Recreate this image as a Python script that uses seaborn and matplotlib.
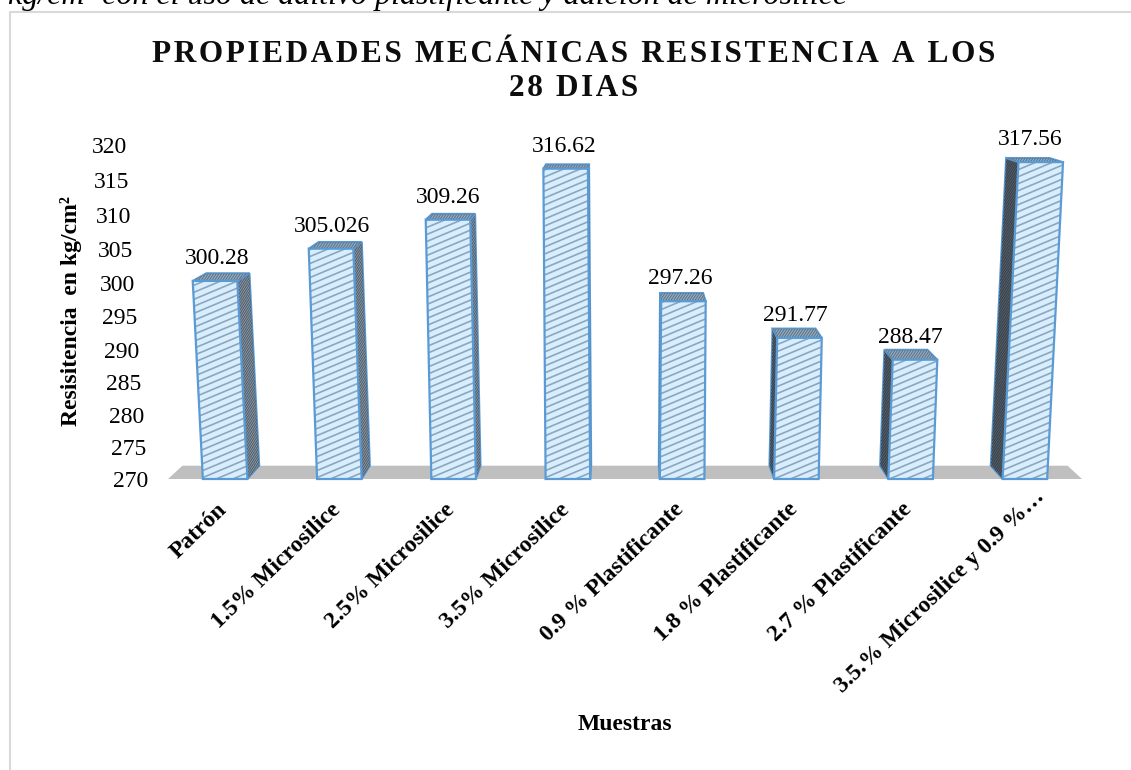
import matplotlib
matplotlib.use('Agg')
import matplotlib.pyplot as plt
import seaborn as sns
import numpy as np
from matplotlib.collections import LineCollection
from matplotlib.lines import Line2D
from matplotlib.patches import Polygon
from matplotlib.transforms import Affine2D, IdentityTransform, ScaledTranslation

muestras = ['Patrón', '1.5% Microsilice', '2.5% Microsilice', '3.5% Microsilice',
            '0.9 % Plastificante', '1.8 % Plastificante', '2.7 % Plastificante',
            '3.5.% Microsilice y 0.9 %…']
resistencia = [300.28, 305.026, 309.26, 316.62, 297.26, 291.77, 288.47, 317.56]
etiquetas = ['300.28', '305.026', '309.26', '316.62', '297.26', '291.77', '288.47', '317.56']
yticks = list(range(270, 325, 5))

titulo = ['PROPIEDADES MECÁNICAS RESISTENCIA A LOS', '28 DIAS']
encabezado = 'kg/cm² con el uso de aditivo plastificante y adición de microsilice'

sns.set_theme(style='white')
plt.rcParams['font.family'] = ['Liberation Serif', 'DejaVu Serif']

W, H = 1131, 770
EDGE = '#5b9bd5'
base = 270
vanish = (3.5, 336.5)   # punto de fuga de la perspectiva
depth = 0.0315


def back(p):
    return (p[0] + (vanish[0] - p[0]) * depth, p[1] + (vanish[1] - p[1]) * depth)


# el eje 3D no es lineal: las marcas se separan un poco hacia arriba
def forward(v):
    u = np.asarray(v, dtype=float) - base
    return 6.33 * u + 0.007 * u ** 2


def inverse(g):
    g = np.asarray(g, dtype=float)
    return base + (-6.33 + np.sqrt(np.maximum(6.33 ** 2 + 4 * 0.007 * g, 0))) / (2 * 0.007)


def hatch(ax, pts, color, spacing, slope, lw, z):
    # rayado inclinado, recortado a la cara
    poly = Polygon(pts, closed=True, transform=ax.transData, fill=False, lw=0)
    ax.add_patch(poly)
    disp = ax.transData.transform(pts)
    x0, x1 = disp[:, 0].min() - 2, disp[:, 0].max() + 2
    y0, y1 = disp[:, 1].min(), disp[:, 1].max()
    segs = []
    for c in np.arange(y0 - slope * (x1 - x0) - spacing, y1 + spacing, spacing):
        segs.append([(x0, c), (x1, c + slope * (x1 - x0))])
    lc = LineCollection(segs, colors=color, linewidths=lw, transform=IdentityTransform(), zorder=z)
    ax.add_collection(lc, autolim=False)
    lc.set_clip_path(poly.get_path(), poly.get_transform())


def face(ax, pts, fill, line, spacing, slope, z):
    ax.add_patch(Polygon(pts, closed=True, facecolor=fill, edgecolor=EDGE, lw=1.4, zorder=z, clip_on=False))
    hatch(ax, pts, line, spacing, slope, 0.9, z + 0.1)


fig = plt.figure(figsize=(W / 100, H / 100), dpi=100)
ax = fig.add_axes([168 / W, 1 - 479 / H, 914 / W, 334 / H])

sns.barplot(x=muestras, y=resistencia, width=0.39, color='#d9eefc', saturation=1,
            edgecolor=EDGE, linewidth=1.6, ax=ax)
ax.set_yscale('function', functions=(forward, inverse))
ax.set_xlim(-0.5, 7.5)
ax.set_ylim(base, 320)
sns.despine(ax=ax, left=True, bottom=True)

# piso gris
p0, p1 = (-0.5, base), (7.5, base)
ax.add_patch(Polygon([p0, p1, back(p1), back(p0)], closed=True, facecolor='#bfbfbf',
                     edgecolor='none', zorder=1, clip_on=False))

for bar, v, etq in zip(ax.patches[:len(resistencia)], resistencia, etiquetas):
    c = bar.get_x() + bar.get_width() / 2
    s = (c - 3.5) * 8.35e-4
    bar.set_y(base)
    bar.set_height(v - base)
    bar.set_transform(Affine2D.from_values(1, 0, s, 1, -s * base, 0) + ax.transData)
    bar.set_clip_on(False)
    l, r = bar.get_x(), bar.get_x() + bar.get_width()
    bl, br = (l, base), (r, base)
    tl, tr = (l + s * (v - base), v), (r + s * (v - base), v)

    # caras laterales y superior
    if back(br)[0] > br[0]:
        face(ax, [br, tr, back(tr), back(br)], '#9aa9b8', '#56626e', 3.5, 1.6, 2)
    if back(bl)[0] < bl[0]:
        face(ax, [bl, tl, back(tl), back(bl)], '#5d6873', '#3b444d', 3.5, 1.6, 2)
    face(ax, [tl, tr, back(tr), back(tl)], '#9db3c6', '#62788c', 4, 1.5, 2.2)

    # cara frontal
    front = [bl, br, tr, tl]
    ax.add_patch(Polygon(front, closed=True, facecolor='#d9eefc', edgecolor='none', zorder=3, clip_on=False))
    hatch(ax, front, '#8aa6c0', 7, 0.42, 1.2, 3.5)
    bar.set_facecolor('none')
    bar.set_zorder(4)

    # valor sobre la barra
    dx = 0.5 * s * (v - base) * 114.25 - 3
    ax.annotate(etq, (c, v), xytext=(dx * 0.72, 17 * 0.72),
                textcoords='offset points', ha='center', va='baseline',
                fontsize=17, color='black', zorder=6, annotation_clip=False)

# ejes
ax.set_yticks(yticks)
ax.minorticks_off()
ax.tick_params(axis='both', length=0, pad=0)
ax.set_yticklabels([str(t) for t in yticks], fontsize=17, color='black')
for lab, t in zip(ax.get_yticklabels(), yticks):
    px = -(20 + (t - base) * 21 / 50)
    lab.set_transform(lab.get_transform() + ScaledTranslation(px / 100, 0, fig.dpi_scale_trans))

ax.set_xticks(range(len(muestras)))
ax.set_xticklabels(muestras, fontsize=17, fontweight='bold', color='black',
                   rotation=44, ha='right', va='top', rotation_mode='anchor')
for i, lab in enumerate(ax.get_xticklabels()):
    # la ultima etiqueta va mas alta y a la derecha por el largo del texto
    ox, oy = (9, -7) if i == len(muestras) - 1 else (-9, -20)
    lab.set_transform(lab.get_transform() + ScaledTranslation(ox / 100, oy / 100, fig.dpi_scale_trans))

ax.set_ylabel('Resisitencia  en kg/cm²', fontsize=17, fontweight='bold', color='black')
ax.yaxis.set_label_coords((82 - 168) / 914, 0.503)
ax.set_xlabel('Muestras', fontsize=17, fontweight='bold', color='black')
ax.xaxis.set_label_coords(0.5, -(724 - 479) / 334)
ax.xaxis.label.set_va('center')

# titulo con espaciado entre letras
for txt, y in zip(titulo, [55, 88]):
    fig.text(574 / W, 1 - y / H, '\u200a'.join(txt), ha='center', va='center',
             fontsize=22.5, fontweight='bold', color='#0d0d0d')

# texto del documento, cortado arriba, y marco del grafico
fig.text(8 / W, 1 - 4 / H, encabezado, ha='left', va='baseline', fontsize=23,
         style='italic', color='black')
fig.add_artist(Line2D([9.5 / W, 9.5 / W, 1], [0, 1 - 12 / H, 1 - 12 / H],
                      color='#d9d9d9', lw=1.5, transform=fig.transFigure))

fig.savefig('out.png', dpi=100)
